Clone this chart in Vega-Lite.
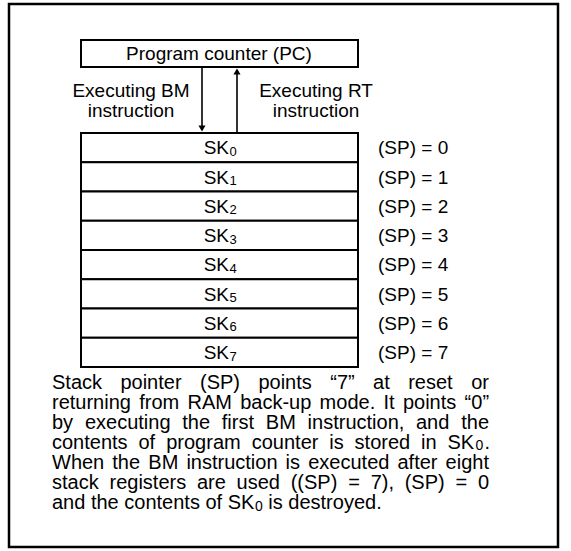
{
  "$schema": "https://vega.github.io/schema/vega-lite/v6.json",
  "width": 571,
  "height": 551,
  "autosize": {"type": "fit", "contains": "padding"},
  "padding": 0,
  "background": "white",
  "config": {"view": {"stroke": null}, "text": {"font": "Liberation Sans", "color": "black", "baseline": "alphabetic"}},
  "datasets": {
    "frame": [{"x": 9, "x2": 558, "y": 4, "y2": 547}],
    "boxes": [
      {"name": "PC", "x": 81, "x2": 358, "y": 40, "y2": 67},
      {"name": "SK0", "x": 81, "x2": 358, "y": 133, "y2": 162.25},
      {"name": "SK1", "x": 81, "x2": 358, "y": 162.25, "y2": 191.5},
      {"name": "SK2", "x": 81, "x2": 358, "y": 191.5, "y2": 220.75},
      {"name": "SK3", "x": 81, "x2": 358, "y": 220.75, "y2": 250},
      {"name": "SK4", "x": 81, "x2": 358, "y": 250, "y2": 279.25},
      {"name": "SK5", "x": 81, "x2": 358, "y": 279.25, "y2": 308.5},
      {"name": "SK6", "x": 81, "x2": 358, "y": 308.5, "y2": 337.75},
      {"name": "SK7", "x": 81, "x2": 358, "y": 337.75, "y2": 367}
    ],
    "arrows": [
      {"dir": "BM", "x": 202, "y": 67, "y2": 127},
      {"dir": "RT", "x": 237, "y": 133, "y2": 73}
    ],
    "heads": [
      {"dir": "BM", "x": 202, "y": 128.5, "shape": "triangle-down"},
      {"dir": "RT", "x": 237, "y": 71.5, "shape": "triangle-up"}
    ],
    "centerText": [
      {"t": "Program counter (PC)", "x": 219, "y": 60},
      {"t": "Executing BM", "x": 131, "y": 97},
      {"t": "instruction", "x": 131, "y": 117},
      {"t": "Executing RT", "x": 316, "y": 97},
      {"t": "instruction", "x": 316, "y": 117}
    ],
    "skText": [
      {"t": "SK", "x": 229, "y": 154.4},
      {"t": "SK", "x": 229, "y": 183.65},
      {"t": "SK", "x": 229, "y": 212.9},
      {"t": "SK", "x": 229, "y": 242.15},
      {"t": "SK", "x": 229, "y": 271.4},
      {"t": "SK", "x": 229, "y": 300.65},
      {"t": "SK", "x": 229, "y": 329.9},
      {"t": "SK", "x": 229, "y": 359.15}
    ],
    "skSub": [
      {"t": "0", "x": 229.5, "y": 155.9},
      {"t": "1", "x": 229.5, "y": 185.15},
      {"t": "2", "x": 229.5, "y": 214.4},
      {"t": "3", "x": 229.5, "y": 243.65},
      {"t": "4", "x": 229.5, "y": 272.9},
      {"t": "5", "x": 229.5, "y": 302.15},
      {"t": "6", "x": 229.5, "y": 331.4},
      {"t": "7", "x": 229.5, "y": 360.65}
    ],
    "spText": [
      {"t": "(SP) = 0", "x": 378, "y": 154.4},
      {"t": "(SP) = 1", "x": 378, "y": 183.65},
      {"t": "(SP) = 2", "x": 378, "y": 212.9},
      {"t": "(SP) = 3", "x": 378, "y": 242.15},
      {"t": "(SP) = 4", "x": 378, "y": 271.4},
      {"t": "(SP) = 5", "x": 378, "y": 300.65},
      {"t": "(SP) = 6", "x": 378, "y": 329.9},
      {"t": "(SP) = 7", "x": 378, "y": 359.15}
    ],
    "paraWords": [
      {"line": 1, "t": "Stack", "x": 52, "y": 389},
      {"line": 1, "t": "pointer", "x": 120.4, "y": 389},
      {"line": 1, "t": "(SP)", "x": 200, "y": 389},
      {"line": 1, "t": "points", "x": 258.4, "y": 389},
      {"line": 1, "t": "“7”", "x": 330.3, "y": 389},
      {"line": 1, "t": "at", "x": 373.1, "y": 389},
      {"line": 1, "t": "reset", "x": 408.2, "y": 389},
      {"line": 1, "t": "or", "x": 471.2, "y": 389},
      {"line": 2, "t": "returning", "x": 52, "y": 409},
      {"line": 2, "t": "from", "x": 139.2, "y": 409},
      {"line": 2, "t": "RAM", "x": 187.5, "y": 409},
      {"line": 2, "t": "back-up", "x": 240.2, "y": 409},
      {"line": 2, "t": "mode.", "x": 319.6, "y": 409},
      {"line": 2, "t": "It", "x": 383.5, "y": 409},
      {"line": 2, "t": "points", "x": 402.9, "y": 409},
      {"line": 2, "t": "“0”", "x": 464.6, "y": 409},
      {"line": 3, "t": "by", "x": 52, "y": 429},
      {"line": 3, "t": "executing", "x": 84.9, "y": 429},
      {"line": 3, "t": "the", "x": 182.2, "y": 429},
      {"line": 3, "t": "first", "x": 221.8, "y": 429},
      {"line": 3, "t": "BM", "x": 265.8, "y": 429},
      {"line": 3, "t": "instruction,", "x": 307.6, "y": 429},
      {"line": 3, "t": "and", "x": 416, "y": 429},
      {"line": 3, "t": "the", "x": 461.2, "y": 429},
      {"line": 4, "t": "contents", "x": 52, "y": 449},
      {"line": 4, "t": "of", "x": 138.5, "y": 449},
      {"line": 4, "t": "program", "x": 166.2, "y": 449},
      {"line": 4, "t": "counter", "x": 251.7, "y": 449},
      {"line": 4, "t": "is", "x": 329.3, "y": 449},
      {"line": 4, "t": "stored", "x": 354.6, "y": 449},
      {"line": 4, "t": "in", "x": 421.1, "y": 449},
      {"line": 4, "t": "SK", "x": 447.5, "y": 449},
      {"line": 4, "t": ".", "x": 484.6, "y": 449},
      {"line": 5, "t": "When", "x": 52, "y": 469},
      {"line": 5, "t": "the", "x": 112.3, "y": 469},
      {"line": 5, "t": "BM", "x": 148.3, "y": 469},
      {"line": 5, "t": "instruction", "x": 186.4, "y": 469},
      {"line": 5, "t": "is", "x": 285.6, "y": 469},
      {"line": 5, "t": "executed", "x": 308.2, "y": 469},
      {"line": 5, "t": "after", "x": 397.5, "y": 469},
      {"line": 5, "t": "eight", "x": 445.6, "y": 469},
      {"line": 6, "t": "stack", "x": 52, "y": 489},
      {"line": 6, "t": "registers", "x": 109.5, "y": 489},
      {"line": 6, "t": "are", "x": 196.9, "y": 489},
      {"line": 6, "t": "used", "x": 236.6, "y": 489},
      {"line": 6, "t": "((SP)", "x": 290.7, "y": 489},
      {"line": 6, "t": "=", "x": 348.2, "y": 489},
      {"line": 6, "t": "7),", "x": 370.7, "y": 489},
      {"line": 6, "t": "(SP)", "x": 404.7, "y": 489},
      {"line": 6, "t": "=", "x": 455.5, "y": 489},
      {"line": 6, "t": "0", "x": 477.9, "y": 489},
      {"line": 7, "t": "and the contents of SK", "x": 52, "y": 509},
      {"line": 7, "t": "is destroyed.", "x": 268.3, "y": 509}
    ],
    "paraSub": [
      {"line": 4, "t": "0", "x": 475.4, "y": 449.6},
      {"line": 7, "t": "0", "x": 255, "y": 510.5}
    ]
  },
  "encoding": {
    "x": {"field": "x", "type": "quantitative", "scale": {"domain": [0, 571], "nice": false, "zero": false}, "axis": null},
    "y": {"field": "y", "type": "quantitative", "scale": {"domain": [0, 551], "reverse": true, "nice": false, "zero": false}, "axis": null}
  },
  "layer": [
    {
      "data": {"name": "frame"},
      "mark": {"type": "rect", "fill": "white", "stroke": "black", "strokeWidth": 2.5},
      "encoding": {"x2": {"field": "x2"}, "y2": {"field": "y2"}}
    },
    {
      "data": {"name": "boxes"},
      "mark": {"type": "rect", "fill": "white", "stroke": "black", "strokeWidth": 2},
      "encoding": {"x2": {"field": "x2"}, "y2": {"field": "y2"}}
    },
    {
      "data": {"name": "arrows"},
      "mark": {"type": "rule", "stroke": "black", "strokeWidth": 1.6},
      "encoding": {"y2": {"field": "y2"}}
    },
    {
      "data": {"name": "heads"},
      "mark": {"type": "point", "filled": true, "color": "black", "size": 50, "opacity": 1},
      "encoding": {"shape": {"field": "shape", "type": "nominal", "scale": null}}
    },
    {
      "data": {"name": "centerText"},
      "mark": {"type": "text", "align": "center", "fontSize": 19},
      "encoding": {"text": {"field": "t"}}
    },
    {
      "data": {"name": "skText"},
      "mark": {"type": "text", "align": "right", "fontSize": 19},
      "encoding": {"text": {"field": "t"}}
    },
    {
      "data": {"name": "skSub"},
      "mark": {"type": "text", "align": "left", "fontSize": 13},
      "encoding": {"text": {"field": "t"}}
    },
    {
      "data": {"name": "spText"},
      "mark": {"type": "text", "align": "left", "fontSize": 19},
      "encoding": {"text": {"field": "t"}}
    },
    {
      "data": {"name": "paraWords"},
      "mark": {"type": "text", "align": "left", "fontSize": 20},
      "encoding": {"text": {"field": "t"}}
    },
    {
      "data": {"name": "paraSub"},
      "mark": {"type": "text", "align": "left", "fontSize": 14},
      "encoding": {"text": {"field": "t"}}
    }
  ]
}
